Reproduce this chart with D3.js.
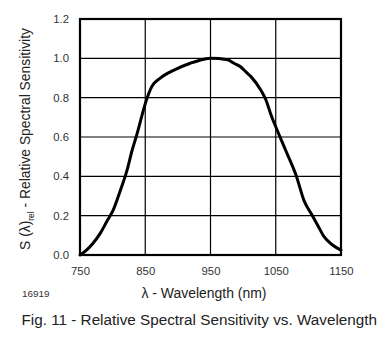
<!DOCTYPE html>
<html>
<head>
<meta charset="utf-8">
<script src="https://cdn.jsdelivr.net/npm/d3@7"></script>
<style>
html,body{margin:0;padding:0;background:#fff;}
svg text{font-family:"Liberation Sans",Arial,Helvetica,sans-serif;}
</style>
</head>
<body>
<svg id="chart" width="390" height="338"></svg>
<script>
const xTicks = [750, 850, 950, 1050, 1150];
const yTicks = [0.0, 0.2, 0.4, 0.6, 0.8, 1.0, 1.2];
const wavelength = [750, 760, 770, 781, 791, 801, 811, 822, 830, 836, 853, 860, 873, 894, 919, 942, 950, 976, 986, 996, 1004, 1012, 1027, 1035, 1042, 1050, 1063, 1065, 1081, 1094, 1104, 1114, 1124, 1137, 1150];
const sensitivity = [0.0, 0.025, 0.06, 0.11, 0.17, 0.229, 0.32, 0.43, 0.534, 0.6, 0.8, 0.856, 0.899, 0.94, 0.975, 0.997, 1.0, 0.993, 0.975, 0.957, 0.932, 0.907, 0.839, 0.788, 0.72, 0.652, 0.55, 0.534, 0.407, 0.271, 0.212, 0.153, 0.093, 0.051, 0.025];
const xLabel = "λ - Wavelength (nm)";
const figId = "16919";
const caption = "Fig. 11 - Relative Spectral Sensitivity vs. Wavelength";

const svg = d3.select("#chart");
const L = 80, R = 341, T = 19, B = 255;
const x = d3.scaleLinear().domain([750, 1150]).range([L, R]);
const y = d3.scaleLinear().domain([0, 1.2]).range([B, T]);

function fit(sel, target, base) {
  const len = sel.node().getComputedTextLength();
  sel.attr("font-size", base * target / len);
}

// grid
const g = svg.append("g");
g.selectAll(".vg").data(xTicks.slice(1, -1)).enter().append("line")
  .attr("x1", d => x(d)).attr("x2", d => x(d)).attr("y1", T).attr("y2", B)
  .attr("stroke", "#000").attr("stroke-width", 1.2);
g.selectAll(".hg").data(yTicks.slice(1, -1)).enter().append("line")
  .attr("y1", d => y(d)).attr("y2", d => y(d)).attr("x1", L).attr("x2", R)
  .attr("stroke", "#000").attr("stroke-width", 1.2);

// curve
const data = wavelength.map((w, i) => [w, sensitivity[i]]);
svg.append("path").datum(data)
  .attr("fill", "none").attr("stroke", "#000").attr("stroke-width", 3)
  .attr("stroke-linejoin", "round").attr("stroke-linecap", "round")
  .attr("d", d3.line().x(d => x(d[0])).y(d => y(d[1])).curve(d3.curveMonotoneX));

// frame
svg.append("rect").attr("x", L).attr("y", T).attr("width", R - L).attr("height", B - T)
  .attr("fill", "none").attr("stroke", "#000").attr("stroke-width", 2.2);

// axes via d3
const xAxis = d3.axisBottom(x).tickValues(xTicks).tickSize(0).tickPadding(12).tickFormat(d3.format("d"));
const xa = svg.append("g").attr("transform", `translate(0,${B})`).call(xAxis);
xa.select(".domain").remove();
xa.selectAll("text").attr("font-size", 11.3).attr("fill", "#333").style("font-family", "Liberation Sans, Arial, sans-serif");

const yAxis = d3.axisLeft(y).tickValues(yTicks).tickSize(0).tickPadding(11).tickFormat(d3.format(".1f"));
const ya = svg.append("g").attr("transform", `translate(${L},0)`).call(yAxis);
ya.select(".domain").remove();
ya.selectAll("text").attr("font-size", 11.3).attr("fill", "#333").style("font-family", "Liberation Sans, Arial, sans-serif");

// axis titles
const xl = svg.append("text").attr("x", 204).attr("y", 298).attr("text-anchor", "middle")
  .attr("font-size", 12).attr("fill", "#222").text(xLabel);
fit(xl, 125, 12);
const fid = svg.append("text").attr("x", 22).attr("y", 297).attr("font-size", 10).attr("fill", "#333").text(figId);
fit(fid, 27.5, 10);

const yl = svg.append("text").attr("transform", "translate(30,139) rotate(-90)")
  .attr("text-anchor", "middle").attr("font-size", 14).attr("fill", "#222");
yl.append("tspan").text("S (λ)");
yl.append("tspan").attr("font-size", 8.5).attr("dy", 4).text("rel");
yl.append("tspan").attr("dy", -4).text(" - Relative Spectral Sensitivity");
{
  const len = yl.node().getComputedTextLength();
  const s = 222 / len;
  yl.attr("font-size", 14 * s);
  yl.selectAll("tspan").filter((d, i) => i === 1).attr("font-size", 8.5 * s);
}

const cap = svg.append("text").attr("x", 21.5).attr("y", 325).attr("font-size", 13.5).attr("fill", "#222").text(caption);
fit(cap, 356, 13.5);
</script>
</body>
</html>
